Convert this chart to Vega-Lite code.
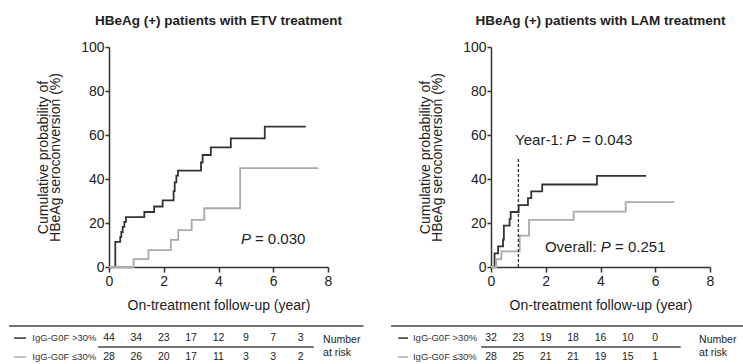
{
  "$schema": "https://vega.github.io/schema/vega-lite/v6.json",
  "padding": {"left": 8, "top": 13, "right": 0, "bottom": 0},
  "bounds": "flush",
  "spacing": 163,
  "background": "white",
  "config": {
    "view": {"stroke": null},
    "font": "Liberation Sans",
    "axis": {"domainColor": "#333", "domainWidth": 1.5, "tickColor": "#333", "tickWidth": 1.5, "labelFont": "Liberation Sans", "labelFontSize": 14, "labelColor": "#222", "titleFont": "Liberation Sans", "titleFontSize": 14, "titleColor": "#222", "titleFontWeight": "normal", "grid": false, "labelFlush": false, "labelOverlap": false},
    "title": {"font": "Liberation Sans", "fontSize": 13.5, "fontWeight": "bold", "color": "#222", "offset": 13}
  },
  "datasets": {
    "one": [{}],
    "km_etv": [
      {"group": ">30%", "t": 0, "p": 0}, {"group": ">30%", "t": 0.23, "p": 11.4}, {"group": ">30%", "t": 0.41, "p": 13.6}, {"group": ">30%", "t": 0.45, "p": 15.9}, {"group": ">30%", "t": 0.5, "p": 18.2}, {"group": ">30%", "t": 0.56, "p": 20.5}, {"group": ">30%", "t": 0.62, "p": 22.7}, {"group": ">30%", "t": 1.29, "p": 25.0}, {"group": ">30%", "t": 1.65, "p": 27.5}, {"group": ">30%", "t": 1.96, "p": 30.3}, {"group": ">30%", "t": 2.36, "p": 34.5}, {"group": ">30%", "t": 2.4, "p": 38.5}, {"group": ">30%", "t": 2.46, "p": 41.5}, {"group": ">30%", "t": 2.52, "p": 43.8}, {"group": ">30%", "t": 3.36, "p": 47.5}, {"group": ">30%", "t": 3.42, "p": 50.9}, {"group": ">30%", "t": 3.72, "p": 54.4}, {"group": ">30%", "t": 4.45, "p": 58.5}, {"group": ">30%", "t": 5.69, "p": 63.8}, {"group": ">30%", "t": 7.19, "p": 63.8},
      {"group": "≤30%", "t": 0, "p": 0}, {"group": "≤30%", "t": 0.9, "p": 3.6}, {"group": "≤30%", "t": 1.44, "p": 7.7}, {"group": "≤30%", "t": 2.26, "p": 12.3}, {"group": "≤30%", "t": 2.53, "p": 16.8}, {"group": "≤30%", "t": 3.02, "p": 21.4}, {"group": "≤30%", "t": 3.48, "p": 26.7}, {"group": "≤30%", "t": 4.79, "p": 44.9}, {"group": "≤30%", "t": 7.64, "p": 44.9}
    ],
    "km_lam": [
      {"group": ">30%", "t": 0, "p": 0}, {"group": ">30%", "t": 0.13, "p": 6.2}, {"group": ">30%", "t": 0.26, "p": 9.4}, {"group": ">30%", "t": 0.44, "p": 12.5}, {"group": ">30%", "t": 0.47, "p": 18.8}, {"group": ">30%", "t": 0.68, "p": 21.9}, {"group": ">30%", "t": 0.72, "p": 25.0}, {"group": ">30%", "t": 1.01, "p": 28.1}, {"group": ">30%", "t": 1.35, "p": 31.3}, {"group": ">30%", "t": 1.47, "p": 34.4}, {"group": ">30%", "t": 1.87, "p": 37.5}, {"group": ">30%", "t": 3.87, "p": 41.4}, {"group": ">30%", "t": 5.67, "p": 41.4},
      {"group": "≤30%", "t": 0, "p": 0}, {"group": "≤30%", "t": 0.19, "p": 3.6}, {"group": "≤30%", "t": 0.38, "p": 7.1}, {"group": "≤30%", "t": 1.05, "p": 14.3}, {"group": "≤30%", "t": 1.39, "p": 21.4}, {"group": "≤30%", "t": 3.02, "p": 25.2}, {"group": "≤30%", "t": 4.92, "p": 29.5}, {"group": "≤30%", "t": 6.7, "p": 29.5}
    ],
    "risk_etv": [
      {"group": ">30%", "year": 0, "n": 44}, {"group": ">30%", "year": 1, "n": 34}, {"group": ">30%", "year": 2, "n": 23}, {"group": ">30%", "year": 3, "n": 17}, {"group": ">30%", "year": 4, "n": 12}, {"group": ">30%", "year": 5, "n": 9}, {"group": ">30%", "year": 6, "n": 7}, {"group": ">30%", "year": 7, "n": 3},
      {"group": "≤30%", "year": 0, "n": 28}, {"group": "≤30%", "year": 1, "n": 26}, {"group": "≤30%", "year": 2, "n": 20}, {"group": "≤30%", "year": 3, "n": 17}, {"group": "≤30%", "year": 4, "n": 11}, {"group": "≤30%", "year": 5, "n": 3}, {"group": "≤30%", "year": 6, "n": 3}, {"group": "≤30%", "year": 7, "n": 2}
    ],
    "risk_lam": [
      {"group": ">30%", "year": 0, "n": 32}, {"group": ">30%", "year": 1, "n": 23}, {"group": ">30%", "year": 2, "n": 19}, {"group": ">30%", "year": 3, "n": 18}, {"group": ">30%", "year": 4, "n": 16}, {"group": ">30%", "year": 5, "n": 10}, {"group": ">30%", "year": 6, "n": 0},
      {"group": "≤30%", "year": 0, "n": 28}, {"group": "≤30%", "year": 1, "n": 25}, {"group": "≤30%", "year": 2, "n": 21}, {"group": "≤30%", "year": 3, "n": 21}, {"group": "≤30%", "year": 4, "n": 19}, {"group": "≤30%", "year": 5, "n": 15}, {"group": "≤30%", "year": 6, "n": 1}
    ]
  },
  "hconcat": [
    {
      "width": 219, "height": 220,
      "title": {"text": "HBeAg (+) patients with ETV treatment"},
      "layer": [
        {
          "data": {"name": "km_etv"},
          "mark": {"type": "line", "interpolate": "step-after", "strokeWidth": 1.8},
          "encoding": {
            "x": {"field": "t", "type": "quantitative", "scale": {"domain": [0, 8], "nice": false, "zero": false}, "axis": {"values": [0,1,2,3,4,5,6,7,8], "tickSize": 5, "labelPadding": 2, "titlePadding": 10, "title": "On-treatment follow-up (year)"}},
            "y": {"field": "p", "type": "quantitative", "scale": {"domain": [0, 100], "nice": false}, "axis": {"values": [0,20,40,60,80,100], "tickSize": 4, "labelPadding": 1, "titlePadding": 18, "titleLineHeight": 12.5, "title": ["Cumulative probability of", "HBeAg seroconversion (%)"]}},
            "color": {"field": "group", "type": "nominal", "scale": {"domain": ["≤30%", ">30%"], "range": ["#aaaaaa", "#333333"]}, "legend": null},
            "order": {"field": "t"}
          }
        },
        {
          "data": {"name": "one"},
          "mark": {"type": "text", "text": "P", "fontStyle": "italic", "fontSize": 15, "align": "left", "baseline": "middle", "color": "#222"},
          "encoding": {"x": {"datum": 4.82, "type": "quantitative"}, "y": {"datum": 12.7, "type": "quantitative"}}
        },
        {
          "data": {"name": "one"},
          "mark": {"type": "text", "text": "= 0.030", "fontSize": 15, "align": "left", "baseline": "middle", "color": "#222"},
          "encoding": {"x": {"datum": 5.33, "type": "quantitative"}, "y": {"datum": 12.7, "type": "quantitative"}}
        },
        {
          "data": {"name": "one"},
          "mark": {"type": "rule", "color": "#444", "strokeWidth": 1.5},
          "encoding": {"x": {"datum": -3.65, "type": "quantitative"}, "x2": {"datum": 9.3}, "y": {"datum": -26.8, "type": "quantitative"}}
        },
        {
          "data": {"name": "one"},
          "mark": {"type": "rule", "color": "#444", "strokeWidth": 1.5},
          "encoding": {"x": {"datum": -0.4, "type": "quantitative"}, "x2": {"datum": 7.48}, "y": {"datum": -36.4, "type": "quantitative"}}
        },
        {
          "data": {"name": "one"},
          "mark": {"type": "rule", "color": "#333", "strokeWidth": 1.5},
          "encoding": {"x": {"datum": -3.47, "type": "quantitative"}, "x2": {"datum": -3.03}, "y": {"datum": -32.3, "type": "quantitative"}}
        },
        {
          "data": {"name": "one"},
          "mark": {"type": "rule", "color": "#aaa", "strokeWidth": 1.5},
          "encoding": {"x": {"datum": -3.47, "type": "quantitative"}, "x2": {"datum": -3.03}, "y": {"datum": -40.9, "type": "quantitative"}}
        },
        {
          "data": {"name": "one"},
          "mark": {"type": "text", "text": "IgG-G0F >30%", "fontSize": 9.5, "align": "left", "baseline": "middle", "color": "#333"},
          "encoding": {"x": {"datum": -2.8, "type": "quantitative"}, "y": {"datum": -32.3, "type": "quantitative"}}
        },
        {
          "data": {"name": "one"},
          "mark": {"type": "text", "text": "IgG-G0F ≤30%", "fontSize": 9.5, "align": "left", "baseline": "middle", "color": "#333"},
          "encoding": {"x": {"datum": -2.8, "type": "quantitative"}, "y": {"datum": -40.9, "type": "quantitative"}}
        },
        {
          "data": {"name": "risk_etv"},
          "transform": [{"filter": "datum.group === '>30%'"}],
          "mark": {"type": "text", "fontSize": 10.5, "align": "center", "baseline": "middle", "color": "#222"},
          "encoding": {"x": {"field": "year", "type": "quantitative"}, "y": {"datum": -32.3, "type": "quantitative"}, "text": {"field": "n"}}
        },
        {
          "data": {"name": "risk_etv"},
          "transform": [{"filter": "datum.group !== '>30%'"}],
          "mark": {"type": "text", "fontSize": 10.5, "align": "center", "baseline": "middle", "color": "#222"},
          "encoding": {"x": {"field": "year", "type": "quantitative"}, "y": {"datum": -40.9, "type": "quantitative"}, "text": {"field": "n"}}
        },
        {
          "data": {"name": "one"},
          "mark": {"type": "text", "text": ["Number", "at risk"], "lineHeight": 13, "fontSize": 10.5, "align": "left", "baseline": "middle", "color": "#222"},
          "encoding": {"x": {"datum": 7.82, "type": "quantitative"}, "y": {"datum": -33.2, "type": "quantitative"}}
        }
      ]
    },
    {
      "width": 219, "height": 220,
      "title": {"text": "HBeAg (+) patients with LAM treatment"},
      "layer": [
        {
          "data": {"name": "km_lam"},
          "mark": {"type": "line", "interpolate": "step-after", "strokeWidth": 1.8},
          "encoding": {
            "x": {"field": "t", "type": "quantitative", "scale": {"domain": [0, 8], "nice": false, "zero": false}, "axis": {"values": [0,1,2,3,4,5,6,7,8], "tickSize": 5, "labelPadding": 2, "titlePadding": 10, "title": "On-treatment follow-up (year)"}},
            "y": {"field": "p", "type": "quantitative", "scale": {"domain": [0, 100], "nice": false}, "axis": {"values": [0,20,40,60,80,100], "tickSize": 4, "labelPadding": 1, "titlePadding": 18, "titleLineHeight": 12.5, "title": ["Cumulative probability of", "HBeAg seroconversion (%)"]}},
            "color": {"field": "group", "type": "nominal", "scale": {"domain": ["≤30%", ">30%"], "range": ["#aaaaaa", "#333333"]}, "legend": null},
            "order": {"field": "t"}
          }
        },
        {
          "data": {"name": "one"},
          "mark": {"type": "rule", "color": "#333", "strokeWidth": 1.3, "strokeDash": [3, 2]},
          "encoding": {"x": {"datum": 1, "type": "quantitative"}, "y": {"datum": 0, "type": "quantitative"}, "y2": {"datum": 50}}
        },
        {
          "data": {"name": "one"},
          "mark": {"type": "text", "text": "Year-1:", "fontSize": 15, "align": "left", "baseline": "middle", "color": "#222"},
          "encoding": {"x": {"datum": 0.88, "type": "quantitative"}, "y": {"datum": 57.7, "type": "quantitative"}}
        },
        {
          "data": {"name": "one"},
          "mark": {"type": "text", "text": "P", "fontStyle": "italic", "fontSize": 15, "align": "left", "baseline": "middle", "color": "#222"},
          "encoding": {"x": {"datum": 2.74, "type": "quantitative"}, "y": {"datum": 57.7, "type": "quantitative"}}
        },
        {
          "data": {"name": "one"},
          "mark": {"type": "text", "text": "= 0.043", "fontSize": 15, "align": "left", "baseline": "middle", "color": "#222"},
          "encoding": {"x": {"datum": 3.32, "type": "quantitative"}, "y": {"datum": 57.7, "type": "quantitative"}}
        },
        {
          "data": {"name": "one"},
          "mark": {"type": "text", "text": "Overall:", "fontSize": 15, "align": "left", "baseline": "middle", "color": "#222"},
          "encoding": {"x": {"datum": 1.97, "type": "quantitative"}, "y": {"datum": 9.1, "type": "quantitative"}}
        },
        {
          "data": {"name": "one"},
          "mark": {"type": "text", "text": "P", "fontStyle": "italic", "fontSize": 15, "align": "left", "baseline": "middle", "color": "#222"},
          "encoding": {"x": {"datum": 4.01, "type": "quantitative"}, "y": {"datum": 9.1, "type": "quantitative"}}
        },
        {
          "data": {"name": "one"},
          "mark": {"type": "text", "text": "= 0.251", "fontSize": 15, "align": "left", "baseline": "middle", "color": "#222"},
          "encoding": {"x": {"datum": 4.53, "type": "quantitative"}, "y": {"datum": 9.1, "type": "quantitative"}}
        },
        {
          "data": {"name": "one"},
          "mark": {"type": "rule", "color": "#444", "strokeWidth": 1.5},
          "encoding": {"x": {"datum": -3.65, "type": "quantitative"}, "x2": {"datum": 9.4}, "y": {"datum": -26.8, "type": "quantitative"}}
        },
        {
          "data": {"name": "one"},
          "mark": {"type": "rule", "color": "#444", "strokeWidth": 1.5},
          "encoding": {"x": {"datum": -0.36, "type": "quantitative"}, "x2": {"datum": 6.93}, "y": {"datum": -36.4, "type": "quantitative"}}
        },
        {
          "data": {"name": "one"},
          "mark": {"type": "rule", "color": "#333", "strokeWidth": 1.5},
          "encoding": {"x": {"datum": -3.39, "type": "quantitative"}, "x2": {"datum": -3.03}, "y": {"datum": -32.3, "type": "quantitative"}}
        },
        {
          "data": {"name": "one"},
          "mark": {"type": "rule", "color": "#aaa", "strokeWidth": 1.5},
          "encoding": {"x": {"datum": -3.39, "type": "quantitative"}, "x2": {"datum": -3.03}, "y": {"datum": -40.9, "type": "quantitative"}}
        },
        {
          "data": {"name": "one"},
          "mark": {"type": "text", "text": "IgG-G0F >30%", "fontSize": 9.5, "align": "left", "baseline": "middle", "color": "#333"},
          "encoding": {"x": {"datum": -2.85, "type": "quantitative"}, "y": {"datum": -32.3, "type": "quantitative"}}
        },
        {
          "data": {"name": "one"},
          "mark": {"type": "text", "text": "IgG-G0F ≤30%", "fontSize": 9.5, "align": "left", "baseline": "middle", "color": "#333"},
          "encoding": {"x": {"datum": -2.85, "type": "quantitative"}, "y": {"datum": -40.9, "type": "quantitative"}}
        },
        {
          "data": {"name": "risk_lam"},
          "transform": [{"filter": "datum.group === '>30%'"}],
          "mark": {"type": "text", "fontSize": 10.5, "align": "center", "baseline": "middle", "color": "#222"},
          "encoding": {"x": {"field": "year", "type": "quantitative"}, "y": {"datum": -32.3, "type": "quantitative"}, "text": {"field": "n"}}
        },
        {
          "data": {"name": "risk_lam"},
          "transform": [{"filter": "datum.group !== '>30%'"}],
          "mark": {"type": "text", "fontSize": 10.5, "align": "center", "baseline": "middle", "color": "#222"},
          "encoding": {"x": {"field": "year", "type": "quantitative"}, "y": {"datum": -40.9, "type": "quantitative"}, "text": {"field": "n"}}
        },
        {
          "data": {"name": "one"},
          "mark": {"type": "text", "text": ["Number", "at risk"], "lineHeight": 13, "fontSize": 10.5, "align": "left", "baseline": "middle", "color": "#222"},
          "encoding": {"x": {"datum": 7.6, "type": "quantitative"}, "y": {"datum": -33.2, "type": "quantitative"}}
        }
      ]
    }
  ]
}
